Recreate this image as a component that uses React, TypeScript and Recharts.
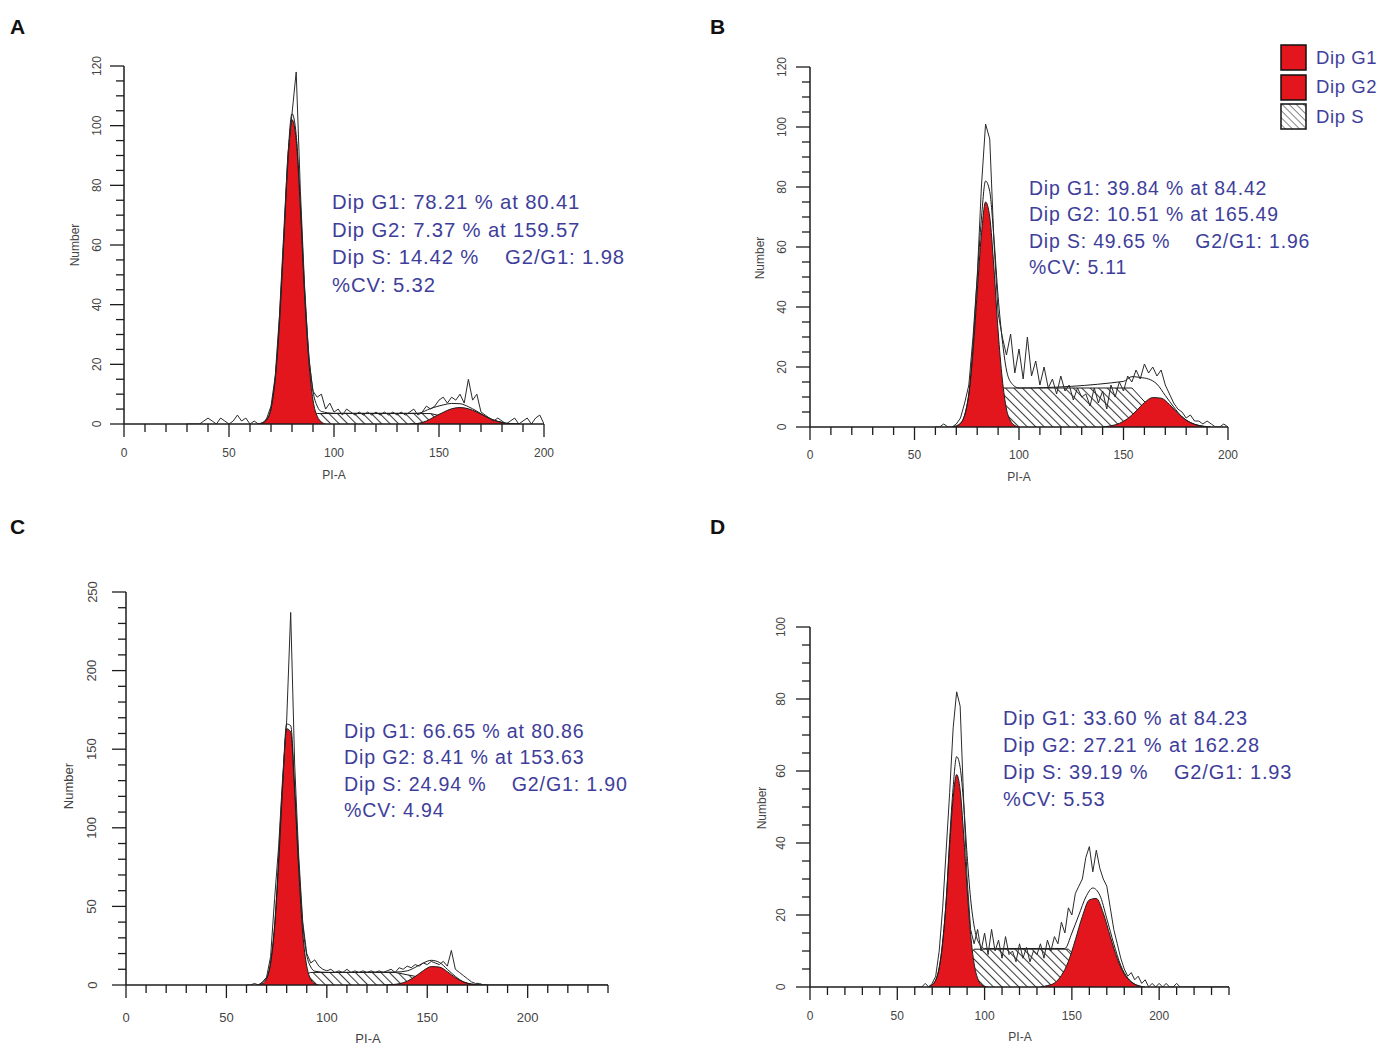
import React from 'react';
import { ComposedChart, Area, Line, XAxis, YAxis } from 'recharts';

const FONT = 'Arial, "Liberation Sans", sans-serif';
const RED = '#e3161d';
const TEXT_BLUE = '#3e3e9a';
const INK = '#1c1c1c';

// ---------------- axis ticks ----------------
const xTicksAB = [0, 10, 20, 30, 40, 50, 60, 70, 80, 90, 100, 110, 120, 130, 140, 150, 160, 170, 180, 190, 200];
const xTicksCD = [0, 10, 20, 30, 40, 50, 60, 70, 80, 90, 100, 110, 120, 130, 140, 150, 160, 170, 180, 190, 200, 210, 220, 230, 240];
const xLabels = [0, 50, 100, 150, 200];
const yTicksAB = [0, 5, 10, 15, 20, 25, 30, 35, 40, 45, 50, 55, 60, 65, 70, 75, 80, 85, 90, 95, 100, 105, 110, 115, 120];
const yLabelsAB = [0, 20, 40, 60, 80, 100, 120];
const yTicksC = [0, 10, 20, 30, 40, 50, 60, 70, 80, 90, 100, 110, 120, 130, 140, 150, 160, 170, 180, 190, 200, 210, 220, 230, 240, 250];
const yLabelsC = [0, 50, 100, 150, 200, 250];
const yTicksD = [0, 5, 10, 15, 20, 25, 30, 35, 40, 45, 50, 55, 60, 65, 70, 75, 80, 85, 90, 95, 100];
const yLabelsD = [0, 20, 40, 60, 80, 100];

// ---------------- Panel A ----------------
const rawStartA = 30;
const rawStepA = 2;
const rawA = [
  0, 0, 0, 0, 1, 2, 1, 0, 2, 1,
  0, 1, 3, 1, 2, 0, 1, 0, 0, 2,
  6, 16, 36, 63, 90, 104, 118, 78, 46, 22,
  11, 9, 10, 5, 7, 4, 5, 3, 5, 4,
  3, 4, 3, 4, 3, 4, 3, 4, 3, 4,
  3, 4, 3, 4, 5, 3, 4, 6, 5, 6,
  8, 9, 7, 9, 8, 10, 7, 15, 8, 10,
  4, 3, 2, 1, 2, 1, 0, 1, 2, 0,
  1, 2, 0, 2, 3, 0,
];
const g1XA = [64, 66, 68, 70, 72, 74, 76, 78, 80, 82, 84, 86, 88, 90, 92, 94, 96];
const g1YA = [0, 0.4, 1.5, 5, 15, 33, 60, 87, 102, 95, 72, 43, 21, 8, 2.6, 0.7, 0];
const g2XA = [136, 140, 144, 148, 152, 156, 160, 164, 168, 172, 176, 180, 184, 188];
const g2YA = [0, 0.2, 1.0, 2.5, 3.9, 5.1, 5.5, 5.1, 4.0, 2.6, 1.3, 0.5, 0.1, 0];
const sXA = [76, 84, 92, 146, 158, 170];
const sYA = [0, 2, 3.5, 3.5, 1.5, 0];
const envXA = [64, 68, 72, 76, 78, 80, 82, 84, 86, 88, 90, 92, 94, 100, 140, 146, 152, 156, 160, 164, 168, 172, 178, 184, 188];
const envYA = [0, 1.5, 15.5, 61, 89, 104, 97, 74, 45, 23.5, 11, 6, 4.2, 3.6, 3.6, 5.2, 6.4, 6.9, 6.8, 5.8, 4.3, 2.6, 0.9, 0.1, 0];
const statsA = ['Dip G1: 78.21 % at 80.41', 'Dip G2: 7.37 % at 159.57', 'Dip S: 14.42 %    G2/G1: 1.98', '%CV: 5.32'];

// ---------------- Panel B ----------------
const rawStartB = 60;
const rawStepB = 2;
const rawB = [
  0, 0, 1, 0, 0, 1, 3, 8, 14, 30,
  50, 80, 101, 96, 62, 38, 30, 24, 31, 18,
  26, 16, 30, 17, 22, 14, 20, 13, 16, 11,
  17, 12, 14, 9, 13, 10, 11, 7, 13, 8,
  12, 6, 14, 10, 15, 12, 17, 15, 19, 16,
  21, 18, 20, 17, 19, 14, 11, 8, 6, 5,
  3, 4, 2, 2, 1, 2, 1, 0, 0, 1,
  0,
];
const g1XB = [68, 70, 72, 74, 76, 78, 80, 82, 84, 86, 88, 90, 92, 94, 96, 98, 100];
const g1YB = [0, 0.3, 1.2, 4, 11, 25, 45, 64, 75, 70, 53, 32, 16, 6, 2, 0.5, 0];
const g2XB = [140, 144, 148, 152, 156, 160, 164, 168, 172, 176, 180, 184, 188, 192];
const g2YB = [0, 0.4, 1.2, 2.8, 5.3, 8.1, 9.8, 9.6, 7.5, 4.6, 2.3, 0.9, 0.3, 0];
const sXB = [76, 84, 92, 154, 162, 170, 176];
const sYB = [0, 7, 13, 13, 7, 2, 0];
const envXB = [68, 72, 76, 78, 80, 82, 84, 86, 88, 90, 92, 94, 96, 100, 150, 154, 158, 162, 166, 170, 174, 178, 182, 186, 190];
const envYB = [0, 1.2, 11, 27.6, 49.4, 69.3, 82, 78.5, 63, 43.5, 29, 19, 15, 13, 15.2, 16.8, 16.5, 16, 14.3, 10.5, 6.7, 3.4, 1.5, 0.5, 0];
const statsB = ['Dip G1: 39.84 % at 84.42', 'Dip G2: 10.51 % at 165.49', 'Dip S: 49.65 %    G2/G1: 1.96', '%CV: 5.11'];

// ---------------- Panel C ----------------
const rawStartC = 60;
const rawStepC = 2;
const rawC = [
  0, 0, 1, 0, 2, 5, 18, 55, 88, 132,
  168, 237, 140, 82, 40, 20, 14, 16, 12, 10,
  9, 10, 8, 9, 8, 10, 8, 9, 8, 9,
  8, 9, 8, 9, 8, 9, 10, 8, 11, 10,
  12, 11, 13, 12, 14, 13, 15, 14, 13, 15,
  12, 22, 10, 8, 6, 4, 2, 1, 1, 0,
  0, 0, 0, 0, 0, 0, 0, 0, 0, 0,
  0, 0, 0, 0, 0, 0, 0, 0, 0, 0,
  0, 0, 0, 0, 0, 0, 0, 0, 0, 0,
  0,
];
const g1XC = [66, 68, 70, 72, 74, 76, 78, 80, 82, 84, 86, 88, 90, 92, 94, 96];
const g1YC = [0.2, 0.9, 4, 13.7, 37, 77, 126, 163, 161, 122, 73, 33, 12, 3.5, 0.8, 0];
const g2XC = [128, 132, 136, 140, 144, 148, 152, 156, 160, 164, 168, 172, 176, 180];
const g2YC = [0, 0.2, 0.8, 2.4, 5.4, 9.1, 11.7, 11.4, 8.5, 4.7, 2, 0.6, 0.2, 0];
const sXC = [74, 84, 92, 134, 146, 160, 168];
const sYC = [0, 4, 8, 8, 5, 1.5, 0];
const envXC = [66, 70, 74, 78, 80, 82, 84, 86, 88, 90, 92, 94, 100, 134, 140, 144, 148, 152, 156, 160, 164, 168, 172, 176];
const envYC = [0.2, 4.5, 38, 129, 166, 165, 126, 78, 39, 19, 11.5, 8.8, 8, 8.2, 9, 11.2, 14, 15.7, 14.4, 10, 5.5, 2, 0.6, 0];
const statsC = ['Dip G1: 66.65 % at 80.86', 'Dip G2: 8.41 % at 153.63', 'Dip S: 24.94 %    G2/G1: 1.90', '%CV: 4.94'];

// ---------------- Panel D ----------------
const rawStartD = 60;
const rawStepD = 2;
const rawD = [
  0, 0, 0, 1, 0, 1, 3, 10, 22, 38,
  54, 72, 82, 78, 52, 30, 16, 12, 16, 10,
  15, 9, 16, 10, 13, 8, 14, 9, 10, 7,
  12, 8, 11, 7, 10, 9, 12, 8, 13, 10,
  14, 12, 18, 15, 22, 20, 26, 28, 30, 36,
  39, 32, 38, 33, 30, 28, 22, 16, 12, 8,
  5, 3, 4, 2, 3, 1, 2, 0, 1, 0,
  1, 0, 1, 0, 0, 1, 0, 0, 0, 0,
  0, 0, 0, 0, 0, 0, 0, 0, 0, 0,
  0,
];
const g1XD = [68, 70, 72, 74, 76, 78, 80, 82, 84, 86, 88, 90, 92, 94, 96, 98, 100, 102];
const g1YD = [0.1, 0.6, 1.9, 5.4, 12.5, 24, 39.3, 52.6, 59, 54.7, 42.4, 27.3, 14.6, 6.5, 2.4, 0.7, 0.2, 0];
const g2XD = [132, 136, 140, 144, 148, 152, 156, 160, 164, 168, 172, 176, 180, 184, 188, 192];
const g2YD = [0, 0.4, 1.1, 3.2, 7.1, 13.1, 19.6, 24.2, 24.6, 20.5, 14, 7.9, 3.6, 1.4, 0.4, 0];
const sXD = [78, 86, 94, 148, 160, 172, 180];
const sYD = [0, 5, 10.5, 10.5, 5, 1, 0];
const envXD = [68, 72, 76, 78, 80, 82, 84, 86, 88, 90, 92, 94, 96, 100, 146, 150, 154, 158, 162, 166, 170, 174, 178, 182, 186, 190];
const envYD = [0.1, 1.9, 12.5, 24, 41, 55.5, 64, 61, 51, 36.5, 24.5, 17, 13, 10.7, 10.7, 15, 20, 25, 27.5, 25.5, 19, 12, 6, 2.5, 0.8, 0];
const statsD = ['Dip G1: 33.60 % at 84.23', 'Dip G2: 27.21 % at 162.28', 'Dip S: 39.19 %    G2/G1: 1.93', '%CV: 5.53'];

const legendItems = ['Dip G1', 'Dip G2', 'Dip S'];

type P = { x: number; y: number };
const pairs = (xs: number[], ys: number[]): P[] => xs.map((x, i) => ({ x, y: ys[i] }));
const binned = (start: number, step: number, ys: number[]): P[] => ys.map((y, i) => ({ x: start + i * step, y }));

type PanelProps = {
  id: string;
  x0: number; y0: number; x1: number; y1: number;
  xMax: number; yMax: number;
  xTicks: number[]; yTicks: number[]; yLabels: number[];
  raw: P[]; g1: P[]; g2: P[]; s: P[]; env: P[];
  fs: number; xLabOff: number; yLabOff: number;
};

const Panel = (p: PanelProps) => {
  const ML = 100, MT = 50, MR = 30, MB = 60;
  const w = p.x1 - p.x0 + ML + MR;
  const h = p.y1 - p.y0 + MT + MB;
  const xTick = (t: any) => {
    const v = t.payload.value;
    const major = xLabels.includes(v);
    return (
      <g>
        <line x1={t.x} y1={t.y} x2={t.x} y2={t.y + (major ? 13 : 8)} stroke={INK} strokeWidth={1.3} />
        {major && (
          <text x={t.x} y={t.y + p.xLabOff} textAnchor="middle" dominantBaseline="central" fontSize={p.fs} fontFamily={FONT} fill="#444">
            {v}
          </text>
        )}
      </g>
    );
  };
  const yTick = (t: any) => {
    const v = t.payload.value;
    const major = p.yLabels.includes(v);
    const tx = t.x - p.yLabOff;
    return (
      <g>
        <line x1={t.x} y1={t.y} x2={t.x - (major ? 14 : 8)} y2={t.y} stroke={INK} strokeWidth={1.3} />
        {major && (
          <text x={tx} y={t.y} textAnchor="middle" dominantBaseline="central" fontSize={p.fs} fontFamily={FONT} fill="#444" transform={`rotate(-90 ${tx} ${t.y})`}>
            {v}
          </text>
        )}
      </g>
    );
  };
  return (
    <div style={{ position: 'absolute', left: p.x0 - ML, top: p.y0 - MT }}>
      <ComposedChart width={w} height={h} margin={{ top: MT, right: MR, bottom: 0, left: 0 }}>
        <defs>
          <pattern id={`hatch-${p.id}`} width={6} height={6} patternUnits="userSpaceOnUse" patternTransform="rotate(-45)">
            <line x1={0.5} y1={0} x2={0.5} y2={6} stroke="#3a3a3a" strokeWidth={1.1} />
          </pattern>
        </defs>
        <XAxis
          type="number"
          dataKey="x"
          domain={[0, p.xMax]}
          allowDataOverflow
          ticks={p.xTicks}
          interval={0}
          tickSize={0}
          tickMargin={0}
          tick={xTick}
          height={MB}
          axisLine={{ stroke: INK, strokeWidth: 1.5 }}
          tickLine={false}
        />
        <YAxis
          type="number"
          dataKey="y"
          domain={[0, p.yMax]}
          allowDataOverflow
          ticks={p.yTicks}
          interval={0}
          tickSize={0}
          tickMargin={0}
          tick={yTick}
          width={ML}
          axisLine={{ stroke: INK, strokeWidth: 1.5 }}
          tickLine={false}
        />
        <Area data={p.s} dataKey="y" type="linear" fill={`url(#hatch-${p.id})`} fillOpacity={1} stroke={INK} strokeWidth={1} isAnimationActive={false} dot={false} activeDot={false} />
        <Area data={p.g1} dataKey="y" type="monotone" fill={RED} fillOpacity={1} stroke={INK} strokeWidth={1} isAnimationActive={false} dot={false} activeDot={false} />
        <Area data={p.g2} dataKey="y" type="monotone" fill={RED} fillOpacity={1} stroke={INK} strokeWidth={1} isAnimationActive={false} dot={false} activeDot={false} />
        <Line data={p.env} dataKey="y" type="monotone" stroke={INK} strokeWidth={1} dot={false} activeDot={false} isAnimationActive={false} />
        <Line data={p.raw} dataKey="y" type="linear" stroke="#2a2a2a" strokeWidth={1} dot={false} activeDot={false} isAnimationActive={false} />
      </ComposedChart>
    </div>
  );
};

const Stats = ({ lines, left, top, lh, fs }: { lines: string[]; left: number; top: number; lh: number; fs: number }) => (
  <div
    style={{
      position: 'absolute', left, top, fontFamily: FONT, fontSize: fs, letterSpacing: 0.85,
      lineHeight: `${lh}px`, color: TEXT_BLUE, whiteSpace: 'pre',
    }}
  >
    {lines.join('\n')}
  </div>
);

const Letter = ({ t, left, top }: { t: string; left: number; top: number }) => (
  <div style={{ position: 'absolute', left, top, fontFamily: FONT, fontWeight: 'bold', fontSize: 21, lineHeight: '24px', color: '#111' }}>{t}</div>
);

const AxisTitle = ({ t, cx, cy, rot, fs }: { t: string; cx: number; cy: number; rot?: boolean; fs: number }) => (
  <div
    style={{
      position: 'absolute', left: cx, top: cy, transform: `translate(-50%, -50%)${rot ? ' rotate(-90deg)' : ''}`,
      fontFamily: FONT, fontSize: fs, color: '#444', whiteSpace: 'nowrap', lineHeight: '1',
    }}
  >
    {t}
  </div>
);

export default function App() {
  return (
    <div style={{ position: 'absolute', left: 0, top: 0, width: 1384, height: 1045, background: '#fff', overflow: 'hidden' }}>
      <Letter t="A" left={10} top={15} />
      <Letter t="B" left={710} top={15} />
      <Letter t="C" left={10} top={515} />
      <Letter t="D" left={710} top={515} />

      <Panel id="a" x0={124} y0={66} x1={544} y1={424} xMax={200} yMax={120} xTicks={xTicksAB} yTicks={yTicksAB} yLabels={yLabelsAB}
        raw={binned(rawStartA, rawStepA, rawA)} g1={pairs(g1XA, g1YA)} g2={pairs(g2XA, g2YA)} s={pairs(sXA, sYA)} env={pairs(envXA, envYA)}
        fs={12} xLabOff={29} yLabOff={27} />
      <Panel id="b" x0={810} y0={67} x1={1228} y1={427} xMax={200} yMax={120} xTicks={xTicksAB} yTicks={yTicksAB} yLabels={yLabelsAB}
        raw={binned(rawStartB, rawStepB, rawB)} g1={pairs(g1XB, g1YB)} g2={pairs(g2XB, g2YB)} s={pairs(sXB, sYB)} env={pairs(envXB, envYB)}
        fs={12} xLabOff={28} yLabOff={28} />
      <Panel id="c" x0={126} y0={592} x1={608} y1={985} xMax={240} yMax={250} xTicks={xTicksCD} yTicks={yTicksC} yLabels={yLabelsC}
        raw={binned(rawStartC, rawStepC, rawC)} g1={pairs(g1XC, g1YC)} g2={pairs(g2XC, g2YC)} s={pairs(sXC, sYC)} env={pairs(envXC, envYC)}
        fs={13} xLabOff={32} yLabOff={34} />
      <Panel id="d" x0={810} y0={627} x1={1229} y1={987} xMax={240} yMax={100} xTicks={xTicksCD} yTicks={yTicksD} yLabels={yLabelsD}
        raw={binned(rawStartD, rawStepD, rawD)} g1={pairs(g1XD, g1YD)} g2={pairs(g2XD, g2YD)} s={pairs(sXD, sYD)} env={pairs(envXD, envYD)}
        fs={12} xLabOff={29} yLabOff={29} />

      <AxisTitle t="Number" cx={75} cy={245} rot fs={12} />
      <AxisTitle t="PI-A" cx={334} cy={475} fs={12} />
      <AxisTitle t="Number" cx={760} cy={258} rot fs={12} />
      <AxisTitle t="PI-A" cx={1019} cy={477} fs={12} />
      <AxisTitle t="Number" cx={68} cy={786} rot fs={13} />
      <AxisTitle t="PI-A" cx={368} cy={1038} fs={13} />
      <AxisTitle t="Number" cx={762} cy={808} rot fs={12} />
      <AxisTitle t="PI-A" cx={1020} cy={1037} fs={12} />

      <Stats lines={statsA} left={332} top={189} lh={27.5} fs={20.3} />
      <Stats lines={statsB} left={1029} top={175} lh={26.4} fs={19.4} />
      <Stats lines={statsC} left={344} top={718} lh={26.4} fs={19.6} />
      <Stats lines={statsD} left={1003} top={705} lh={27} fs={20} />

      <div style={{ position: 'absolute', left: 1280, top: 43 }}>
        {legendItems.map((t, i) => (
          <div key={t} style={{ display: 'flex', alignItems: 'center', height: 29.5 }}>
            <svg width={27} height={27} style={{ display: 'block' }}>
              <defs>
                <pattern id="legend-hatch" width={5} height={5} patternUnits="userSpaceOnUse" patternTransform="rotate(-45)">
                  <line x1={0} y1={0} x2={0} y2={5} stroke="#333" strokeWidth={1.2} />
                </pattern>
              </defs>
              <rect x={1} y={1} width={25} height={25} fill={i < 2 ? RED : 'url(#legend-hatch)'} stroke="#111" strokeWidth={1.5} />
            </svg>
            <span style={{ marginLeft: 9, fontFamily: FONT, fontSize: 18.5, letterSpacing: 0.6, color: TEXT_BLUE }}>{t}</span>
          </div>
        ))}
      </div>
    </div>
  );
}
